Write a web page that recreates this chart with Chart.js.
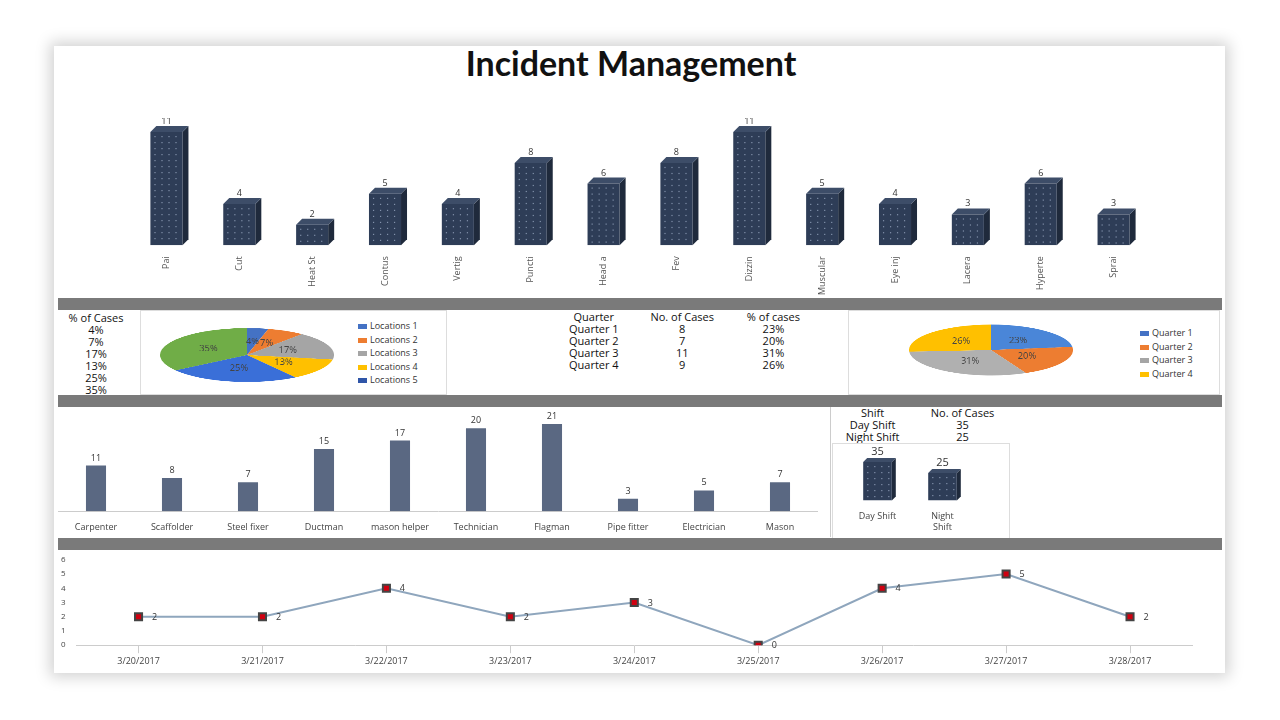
<!DOCTYPE html>
<html><head><meta charset="utf-8">
<script src="https://cdn.jsdelivr.net/npm/chart.js@4.4.1/dist/chart.umd.min.js"></script>
<style>
body{margin:0;width:1280px;height:720px;background:#fff;font-family:"Open Sans",Lato,sans-serif;position:relative;overflow:hidden}
#card{position:absolute;left:54px;top:46px;width:1171px;height:627px;background:#fff;box-shadow:0 0 14px 4px rgba(0,0,0,0.18)}
.abs{position:absolute}
.bar{position:absolute;left:58px;width:1164px;height:12px;background:#7a7a7a}
h1{position:absolute;left:0;top:42px;width:1262px;text-align:center;font:bold 34px Lato,"Open Sans",sans-serif;margin:0;color:#111}
.tbl{font:11px "Open Sans",sans-serif;color:#111;text-align:center;line-height:12px}
table{border-collapse:collapse;font:11px 'Open Sans';text-align:center;line-height:12px}
td{padding:0}
.box{position:absolute;border:1px solid #ddd;background:#fff}
.leg{font:9px "Open Sans",sans-serif;color:#333;line-height:13.5px}
.leg span{display:inline-block;width:9px;height:5px;margin-right:3px;vertical-align:middle}
</style></head><body>
<div id="card"></div>
<h1>Incident Management</h1>
<div class="abs" style="left:130px;top:118px;width:1030px;height:180px"><canvas id="c1"></canvas></div>
<div class="bar" style="top:298px"></div>
<div class="abs tbl" style="left:56px;top:312px;width:80px;white-space:nowrap">% of Cases<br>4%<br>7%<br>17%<br>13%<br>25%<br>35%</div>
<div class="box" style="left:140px;top:310px;width:305px;height:83px"></div>
<div class="abs" style="left:160px;top:268px;width:174px;height:174px;transform:scaleY(0.31);transform-origin:50% 50%"><canvas id="p1"></canvas></div>
<div class="abs leg" style="left:358px;top:319px">
<div><span style="background:#4472c4"></span>Locations 1</div><div><span style="background:#ed7d31"></span>Locations 2</div><div><span style="background:#a5a5a5"></span>Locations 3</div><div><span style="background:#ffc000"></span>Locations 4</div><div><span style="background:#2f55a8"></span>Locations 5</div></div>
<div class="abs tbl" style="left:555px;top:311px;width:260px">
<table style="width:260px"><tr><td>Quarter</td><td>No. of Cases</td><td>% of cases</td></tr><tr><td>Quarter 1</td><td>8</td><td>23%</td></tr><tr><td>Quarter 2</td><td>7</td><td>20%</td></tr><tr><td>Quarter 3</td><td>11</td><td>31%</td></tr><tr><td>Quarter 4</td><td>9</td><td>26%</td></tr></table></div>
<div class="box" style="left:848px;top:310px;width:370px;height:83px"></div>
<div class="abs" style="left:909px;top:268px;width:164px;height:164px;transform:scaleY(0.31);transform-origin:50% 50%"><canvas id="p2"></canvas></div>
<div class="abs leg" style="left:1140px;top:326px">
<div><span style="background:#4472c4"></span>Quarter 1</div><div><span style="background:#ed7d31"></span>Quarter 2</div><div><span style="background:#a5a5a5"></span>Quarter 3</div><div><span style="background:#ffc000"></span>Quarter 4</div></div>
<div class="bar" style="top:395px"></div>
<div class="abs" style="left:58px;top:412px;width:760px;height:124px"><canvas id="c3"></canvas></div>
<div class="box" style="left:830px;top:407px;width:1px;height:130px;border:none;background:#ccc"></div>
<div class="abs tbl" style="left:832px;top:407px;width:180px">
<table><tr><td style="width:82px">Shift</td><td style="width:100px">No. of Cases</td></tr><tr><td>Day Shift</td><td>35</td></tr><tr><td>Night Shift</td><td>25</td></tr></table></div>
<div class="box" style="left:832px;top:443px;width:176px;height:94px"></div>
<div class="abs" style="left:845px;top:446px;width:130px;height:90px"><canvas id="c4"></canvas></div>
<div class="bar" style="top:538px"></div>
<div class="abs" style="left:58px;top:552px;width:1164px;height:118px"><canvas id="c5"></canvas></div>
<script>
const injuries=["Pai","Cut","Heat St","Contus","Vertig","Puncti","Head a","Fev","Dizzin","Muscular","Eye inj","Lacera","Hyperte","Sprai"];
const injuryCases=[11,4,2,5,4,8,6,8,11,5,4,3,6,3];
const locations=["Locations 1","Locations 2","Locations 3","Locations 4","Locations 5","Locations 6"];
const locationPct=[4,7,17,13,25,35];
const quarters=["Quarter 1","Quarter 2","Quarter 3","Quarter 4"];
const quarterPct=[23,20,31,26];
const trades=["Carpenter","Scaffolder","Steel fixer","Ductman","mason helper","Technician","Flagman","Pipe fitter","Electrician","Mason"];
const tradeCases=[11,8,7,15,17,20,21,3,5,7];
const shifts=["Day Shift",["Night","Shift"]];
const shiftCases=[35,25];
const dates=["3/20/2017","3/21/2017","3/22/2017","3/23/2017","3/24/2017","3/25/2017","3/26/2017","3/27/2017","3/28/2017"];
const dailyCases=[2,2,4,2,3,0,4,5,2];

Chart.defaults.font.family="'Open Sans'";Chart.defaults.animation=false;
const valLabels={id:'vl',afterDatasetsDraw(c,a,o){if(!o||!o.on)return;const x=c.ctx;x.save();x.fillStyle='#333';x.font=(o.size||9)+"px 'Open Sans'";x.textAlign=o.align||'center';
c.getDatasetMeta(0).data.forEach((el,i)=>{const v=c.data.datasets[0].data[i];x.fillText(v,el.x+(o.dx||0),el.y+(o.dy||-4));});x.restore();}};
const depth={id:'dp',beforeDatasetsDraw(c,a,o){if(!o||!o.on)return;const x=c.ctx;const d=o.d;x.save();
c.getDatasetMeta(0).data.forEach(el=>{const l=el.x-el.width/2,r=el.x+el.width/2,t=el.y,b=el.base;
x.fillStyle='#1f2a3c';x.beginPath();x.moveTo(r,t);x.lineTo(r+d,t-d);x.lineTo(r+d,b-d);x.lineTo(r,b);x.fill();
x.fillStyle='#3d4d68';x.beginPath();x.moveTo(l,t);x.lineTo(l+d,t-d);x.lineTo(r+d,t-d);x.lineTo(r,t);x.fill();});x.restore();},
afterDatasetsDraw(c,a,o){if(!o||!o.on)return;const x=c.ctx;x.save();x.fillStyle='rgba(200,215,240,0.55)';
c.getDatasetMeta(0).data.forEach(el=>{const l=el.x-el.width/2;for(let yy=el.y+4;yy<el.base-2;yy+=6)for(let xx=l+4;xx<l+el.width-2;xx+=7)x.fillRect(xx,yy,1.2,1.2);});x.restore();}};
Chart.register(valLabels,depth);
const pieLab={id:'pl',afterDatasetsDraw(c){const x=c.ctx;x.font="30px 'Open Sans'";x.fillStyle='#444';x.textAlign='center';x.textBaseline='middle';
c.getDatasetMeta(0).data.forEach((el,i)=>{const p=el.tooltipPosition();x.save();x.translate(p.x,p.y);x.scale(0.31,1);x.fillText(c.data.datasets[0].data[i]+'%',0,0);x.restore();});}};
new Chart(c1,{type:'bar',data:{labels:injuries,datasets:[{data:injuryCases,backgroundColor:'#2e3d57',barPercentage:0.55}]},
options:{responsive:true,maintainAspectRatio:false,layout:{padding:{top:14,right:10}},plugins:{legend:{display:false},tooltip:{enabled:false},vl:{on:true,dy:-8},dp:{on:true,d:6}},
scales:{y:{display:false,min:0,max:11},x:{grid:{display:false},border:{display:false},ticks:{maxRotation:90,minRotation:90,color:'#555',font:{size:9}}}}}});
new Chart(p1,{type:'pie',data:{labels:locations,datasets:[{data:locationPct,backgroundColor:['#4472c4','#ed7d31','#a5a5a5','#ffc000','#3a6fd8','#70ad47'],borderWidth:0}]},
options:{responsive:true,maintainAspectRatio:false,plugins:{legend:{display:false},tooltip:{enabled:false}}},plugins:[pieLab]});
new Chart(p2,{type:'pie',data:{labels:quarters,datasets:[{data:quarterPct,backgroundColor:['#4a86d8','#ed7d31','#b0b0b0','#ffc000'],borderWidth:0}]},
options:{responsive:true,maintainAspectRatio:false,plugins:{legend:{display:false},tooltip:{enabled:false}}},plugins:[pieLab]});
new Chart(c3,{type:'bar',data:{labels:trades,datasets:[{data:tradeCases,backgroundColor:'#5a6882',barPercentage:0.33}]},
options:{responsive:true,maintainAspectRatio:false,layout:{padding:{top:12}},plugins:{legend:{display:false},tooltip:{enabled:false},vl:{on:true,dy:-5}},
scales:{y:{display:false,min:0,max:21},x:{grid:{display:false},border:{color:'#ccc'},ticks:{color:'#444',font:{size:9}}}}}});
new Chart(c4,{type:'bar',data:{labels:shifts,datasets:[{data:shiftCases,backgroundColor:'#2e3d57',barPercentage:0.55}]},
options:{responsive:true,maintainAspectRatio:false,layout:{padding:{top:16}},plugins:{legend:{display:false},tooltip:{enabled:false},vl:{on:true,dy:-7,size:11},dp:{on:true,d:4}},
scales:{y:{display:false,min:0,max:35},x:{grid:{display:false},border:{display:false},ticks:{color:'#444',font:{size:9}}}}}});
new Chart(c5,{type:'line',data:{labels:dates,datasets:[{data:dailyCases,borderColor:'#8fa6bd',borderWidth:2,pointStyle:'rect',pointRadius:5,pointBackgroundColor:'#d00010',pointBorderColor:'#444',tension:0}]},
options:{responsive:true,maintainAspectRatio:false,layout:{padding:{right:30,left:0}},plugins:{legend:{display:false},tooltip:{enabled:false},vl:{on:true,dx:16,dy:3,align:'center'}},
scales:{y:{min:0,max:6,ticks:{stepSize:1,color:'#444',font:{size:8}},grid:{display:false},border:{display:false}},x:{offset:true,grid:{display:true,drawOnChartArea:false,color:'#ccc'},border:{color:'#ccc'},ticks:{color:'#444',font:{size:9}}}}}});
</script></body></html>
